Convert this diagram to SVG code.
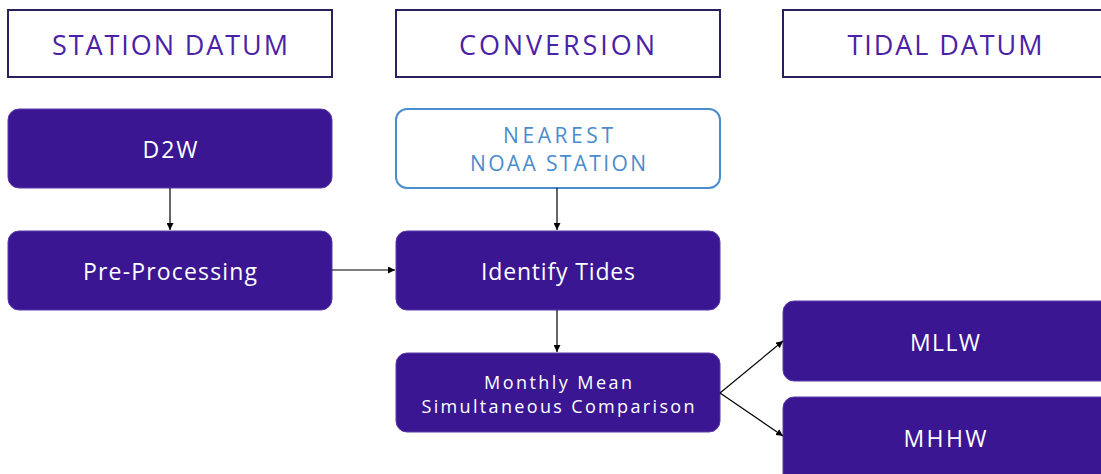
<svg xmlns="http://www.w3.org/2000/svg" width="1101" height="474" viewBox="0 0 1101 474">
<defs>
<marker id="ah" viewBox="0 0 10 10" refX="10" refY="5" markerWidth="7" markerHeight="7" orient="auto" markerUnits="userSpaceOnUse">
<path d="M0,0 L10,5 L0,10 z" fill="#000"/>
</marker>
<style>
.hdr{fill:#fff;stroke:#2b1f5c;stroke-width:2}
.hdrt{fill:#4b22a6;font-family:"Open Sans","Liberation Sans",sans-serif;font-size:27px;text-anchor:middle;dominant-baseline:central}
.node{fill:#3a1692;stroke:#5a3aa8;stroke-width:1}
.nt{fill:#fff;font-family:"Open Sans","Liberation Sans",sans-serif;font-size:23px;text-anchor:middle;dominant-baseline:central}
.nt2{fill:#fff;font-family:"Open Sans","Liberation Sans",sans-serif;font-size:18px;text-anchor:middle;dominant-baseline:central}
.src{fill:#fff;stroke:#4a8ccd;stroke-width:2}
.srct{fill:#4a8ccd;font-family:"Open Sans","Liberation Sans",sans-serif;font-size:21px;text-anchor:middle;dominant-baseline:central}
.c{stroke:#000;stroke-width:1.2;fill:none;marker-end:url(#ah)}
</style>
</defs>
<rect width="1101" height="474" fill="#fff"/>
<g id="hdr-station">
<rect class="hdr" x="8" y="10" width="324" height="67"/>
<text class="hdrt" x="170" y="44" textLength="236" lengthAdjust="spacing">STATION DATUM</text>
</g>
<g id="hdr-conversion">
<rect class="hdr" x="396" y="10" width="324" height="67"/>
<text class="hdrt" x="557" y="44" textLength="196" lengthAdjust="spacing">CONVERSION</text>
</g>
<g id="hdr-tidal">
<rect class="hdr" x="783" y="10" width="330" height="67"/>
<text class="hdrt" x="945" y="44" textLength="195" lengthAdjust="spacing">TIDAL DATUM</text>
</g>
<g id="d2w">
<rect class="node" x="8" y="109" width="324" height="79" rx="11"/>
<text class="nt" x="170" y="149" textLength="55" lengthAdjust="spacing">D2W</text>
</g>
<g id="preprocessing">
<rect class="node" x="8" y="231" width="324" height="79" rx="11"/>
<text class="nt" x="170" y="271" textLength="174" lengthAdjust="spacing">Pre-Processing</text>
</g>
<g id="noaa">
<rect class="src" x="396" y="109" width="324" height="79" rx="11"/>
<text class="srct" x="558" y="135" textLength="110" lengthAdjust="spacing">NEAREST</text>
<text class="srct" x="558" y="163" textLength="176" lengthAdjust="spacing">NOAA STATION</text>
</g>
<g id="identify">
<rect class="node" x="396" y="231" width="324" height="79" rx="11"/>
<text class="nt" x="558" y="271" textLength="154" lengthAdjust="spacing">Identify Tides</text>
</g>
<g id="monthly">
<rect class="node" x="396" y="353" width="324" height="79" rx="11"/>
<text class="nt2" x="558" y="382" textLength="148" lengthAdjust="spacing">Monthly Mean</text>
<text class="nt2" x="558" y="406" textLength="273" lengthAdjust="spacing">Simultaneous Comparison</text>
</g>
<g id="mllw">
<rect class="node" x="783" y="301" width="330" height="80" rx="11"/>
<text class="nt" x="945" y="342" textLength="70" lengthAdjust="spacing">MLLW</text>
</g>
<g id="mhhw">
<rect class="node" x="783" y="397" width="330" height="90" rx="11"/>
<text class="nt" x="945" y="438" textLength="83" lengthAdjust="spacing">MHHW</text>
</g>
<g id="connectors">
<line class="c" x1="170" y1="188" x2="170" y2="230"/>
<line class="c" x1="332" y1="270" x2="395" y2="270"/>
<line class="c" x1="557" y1="188" x2="557" y2="230"/>
<line class="c" x1="557" y1="310" x2="557" y2="352"/>
<line class="c" x1="720" y1="393" x2="783" y2="341"/>
<line class="c" x1="720" y1="393" x2="783" y2="436"/>
</g>
</svg>
